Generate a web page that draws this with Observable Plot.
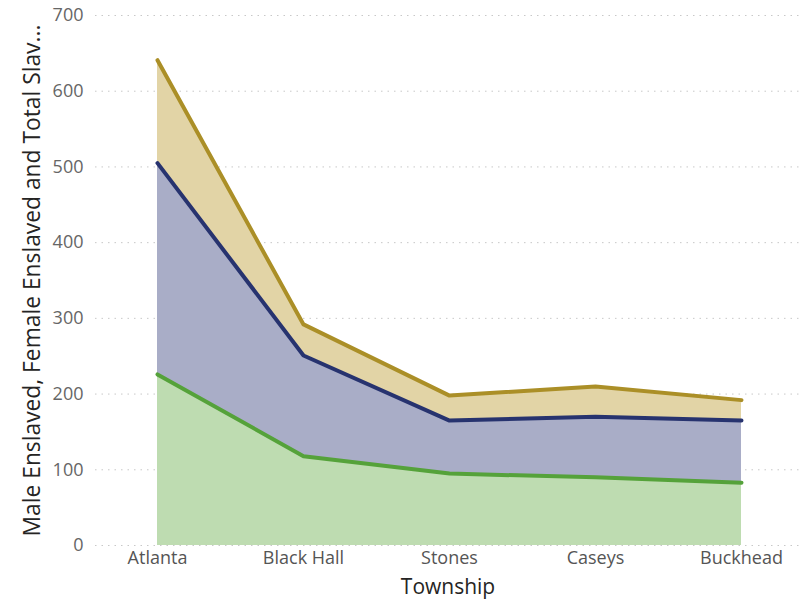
<!DOCTYPE html>
<html><head><meta charset="utf-8">
<script src="https://cdn.jsdelivr.net/npm/d3@7"></script>
<script src="https://cdn.jsdelivr.net/npm/@observablehq/plot@0.6"></script>
<style>
body{margin:0;background:#fff;}
#chart svg{display:block;}
</style>
</head><body><div id="chart"></div>
<script>
const townships = ["Atlanta", "Black Hall", "Stones", "Caseys", "Buckhead"];
const maleEnslaved = [226, 118, 95, 90, 83];
const femaleEnslaved = [505, 251, 165, 170, 165];
const totalSlaves = [641, 292, 198, 210, 192];
const yTicks = [0, 100, 200, 300, 400, 500, 600, 700];
const yTitle = "Male Enslaved, Female Enslaved and Total Slav...";
const xTitle = "Township";

const series = [
  {name: "Total Slaves", values: totalSlaves, line: "#ab8f27", fill: "#e2d4a6"},
  {name: "Female Enslaved", values: femaleEnslaved, line: "#27336f", fill: "#a9adc7"},
  {name: "Male Enslaved", values: maleEnslaved, line: "#55a23a", fill: "#bedcb1"}
];
const rows = series.flatMap(s => townships.map((t, i) => ({township: t, value: s.values[i], series: s.name})));

const font = "'Open Sans', Roboto, 'DejaVu Sans', sans-serif";
const marks = [
  Plot.gridY(yTicks, {stroke: "#c8c8c8", strokeOpacity: 1, strokeDasharray: "1.5,5", strokeWidth: 1})
];
for (const s of series) {
  marks.push(Plot.areaY(rows.filter(d => d.series === s.name), {x: "township", y: "value", fill: s.fill, fillOpacity: 1}));
}
for (const s of series) {
  marks.push(Plot.lineY(rows.filter(d => d.series === s.name), {x: "township", y: "value", stroke: s.line, strokeWidth: 4, strokeLinejoin: "round", strokeLinecap: "round"}));
}
marks.push(
  Plot.axisY(yTicks, {tickSize: 0, tickPadding: 12, fontSize: 18, fill: "#666", label: null}),
  Plot.axisX({tickSize: 0, tickPadding: 6, fontSize: 18, fill: "#555", label: null}),
  Plot.text([yTitle], {frameAnchor: "left", textAnchor: "middle", rotate: -90, dx: -63, fontSize: 22.8, fontWeight: 500, fill: "#252423", fontFamily: font}),
  Plot.text([xTitle], {frameAnchor: "bottom", textAnchor: "middle", dy: 48, fontSize: 21, fontWeight: 500, fill: "#252423", fontFamily: font})
);

const chart = Plot.plot({
  width: 807,
  height: 603,
  marginLeft: 95,
  marginRight: 7,
  marginTop: 15,
  marginBottom: 58,
  style: {fontFamily: font, background: "#fff"},
  x: {type: "point", domain: townships, range: [157, 741], padding: 0},
  y: {domain: [0, 700], range: [545, 15]},
  marks
});
document.getElementById("chart").append(chart);
</script>
</body></html>
